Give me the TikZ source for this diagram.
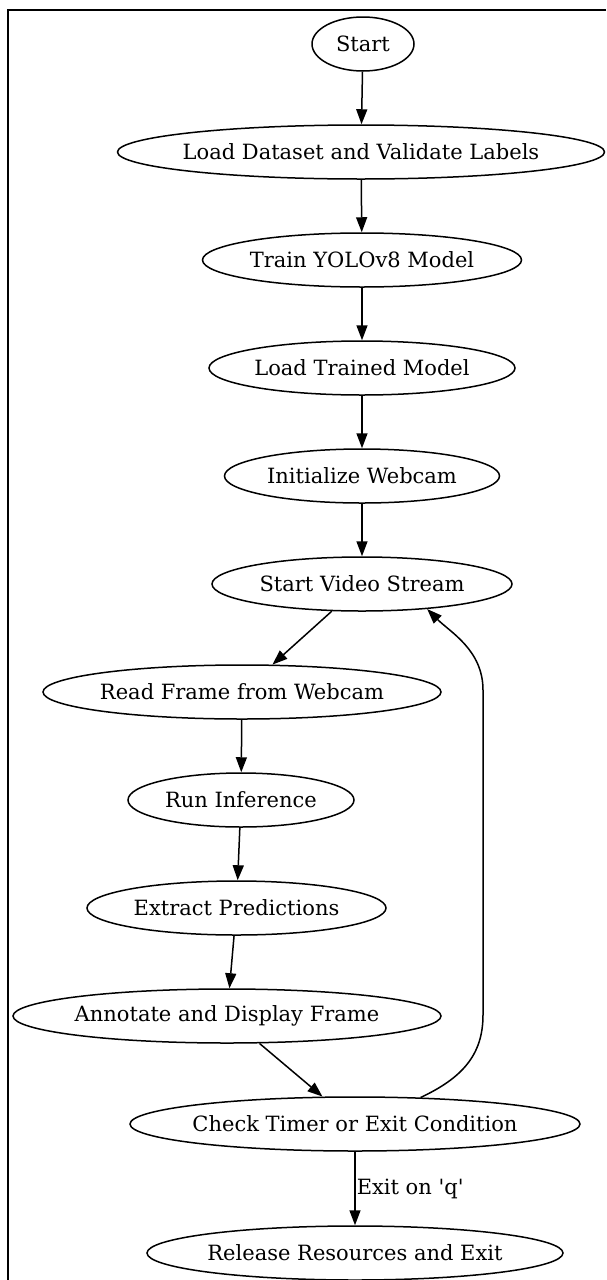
\documentclass[tikz,border=0pt]{standalone}
\usepackage{fontspec}
\newfontfamily\dotfont{DejaVu Serif}[Ligatures=TeXOff]
\usetikzlibrary{shapes.geometric,arrows.meta}

\begin{document}
\begin{tikzpicture}
           [x=1pt,y=-1pt,font=\dotfont\fontsize{21}{25}\selectfont,
            stage/.style={draw,ellipse,line width=1.5pt,minimum height=54pt,inner ysep=0pt,inner xsep=-12pt},
            flow/.style={-{Triangle[length=15pt,width=11pt]},line width=1.5pt}]
           \useasboundingbox (0,0) rectangle (606,1280);
           \draw[line width=2.5pt] (606,10) -- (8,10) -- (8,1280);

           \node[stage,minimum width=102pt] (start) at (363,44) {Start};
           \node[stage,minimum width=487pt] (load) at (361,152) {Load Dataset and Validate Labels};
           \node[stage,minimum width=319pt] (train) at (362,260) {Train YOLOv8 Model};
           \node[stage,minimum width=306pt] (model) at (362,368) {Load Trained Model};
           \node[stage,minimum width=275pt] (webcam) at (362,476) {Initialize Webcam};
           \node[stage,minimum width=300pt] (video) at (362,584) {Start Video Stream};
           \node[stage,minimum width=398pt] (read) at (242,692) {Read Frame from Webcam};
           \node[stage,minimum width=226pt] (infer) at (241,800) {Run Inference};
           \node[stage,minimum width=299pt] (extract) at (236.5,908) {Extract Predictions};
           \node[stage,minimum width=428pt] (annot) at (227,1016) {Annotate and Display Frame};
           \node[stage,minimum width=450pt] (check) at (355,1124) {Check Timer or Exit Condition};
           \node[stage,minimum width=416pt] (release) at (355,1253) {Release Resources and Exit};

           \draw[flow] (start) -- (load);
           \draw[flow] (load) -- (train);
           \draw[flow] (train) -- (model);
           \draw[flow] (model) -- (webcam);
           \draw[flow] (webcam) -- (video);
           \draw[flow] (video) -- (read);
           \draw[flow] (read) -- (infer);
           \draw[flow] (infer) -- (extract);
           \draw[flow] (extract) -- (annot);
           \draw[flow] (annot) -- (check);
           \draw[flow] (check) -- node[right,inner sep=1pt] {Exit on 'q'} (release);

           \draw[flow] (check.22) .. controls (462,1078) and (483,1055) .. (483,1015)
             -- (483,690) .. controls (483,650) and (450,632) .. (video.-21);
         \end{tikzpicture}
\end{document}
